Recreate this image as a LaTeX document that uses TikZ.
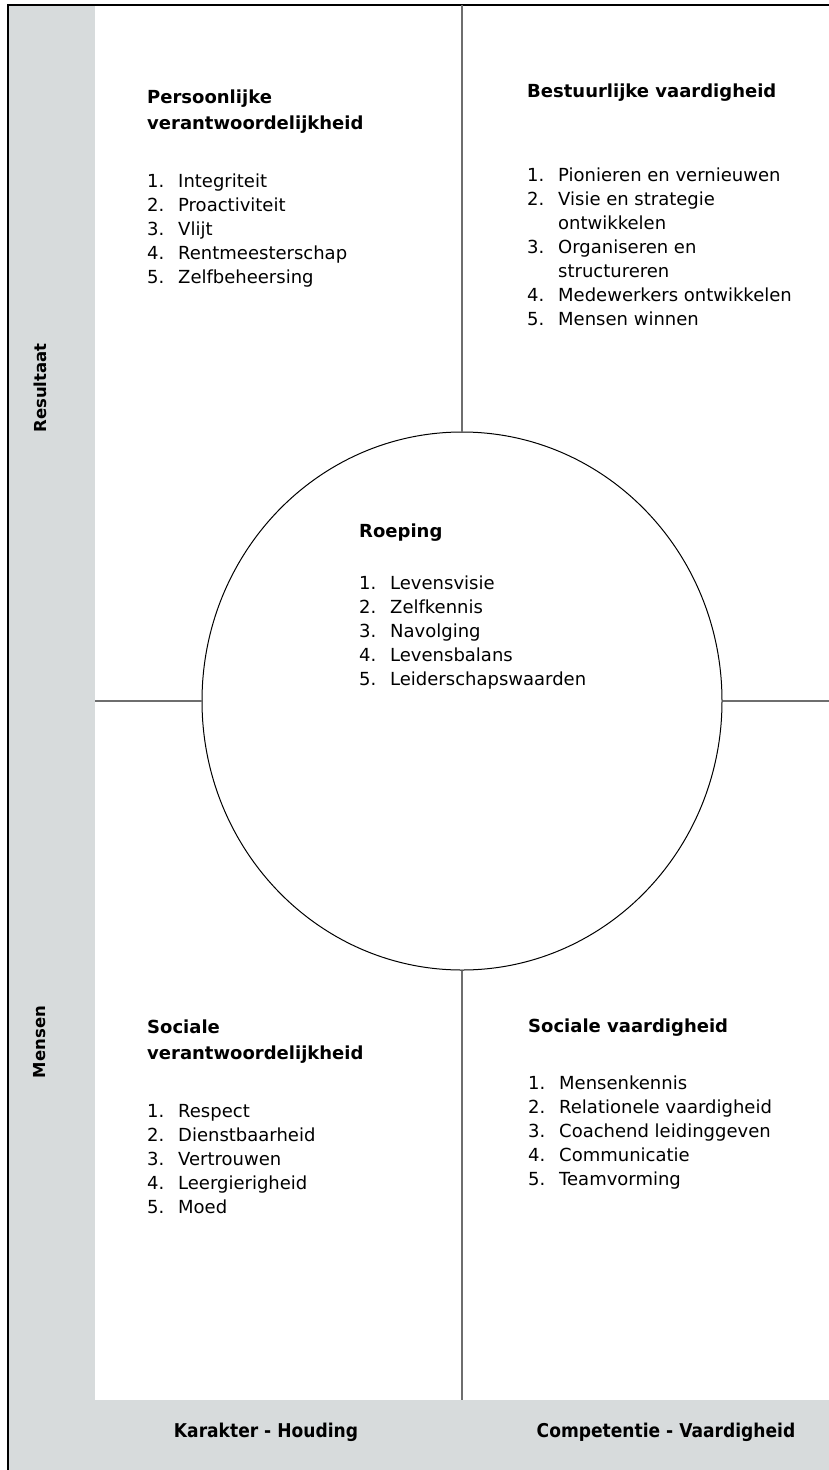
\documentclass[tikz,border=0pt]{standalone}
\usepackage{fontspec}
\setmainfont{DejaVu Sans}
\newfontfamily\condfont[FakeStretch=0.9]{DejaVu Sans}
\usetikzlibrary{shapes.geometric, positioning}
\definecolor{panelgray}{HTML}{D7DBDC}
\definecolor{crossgray}{HTML}{6E6E6E}
\newcommand{\nr}[1]{\makebox[31pt][l]{#1}}

\begin{document}
\begin{tikzpicture}[x=1pt, y=-1pt,
    title/.style={font=\fontsize{18}{26}\selectfont\bfseries, align=left, inner sep=0pt, anchor=base west},
    list/.style={font=\fontsize{18}{24}\selectfont, align=left, inner sep=0pt, anchor=base west},
    side/.style={font=\fontsize{16.5}{20}\selectfont\bfseries, rotate=90, inner sep=0pt},
    axis/.style={font=\fontsize{19}{22}\selectfont\condfont\bfseries, inner sep=0pt},
    cross/.style={draw=crossgray, line width=1.2pt}]
    \useasboundingbox (0,0) rectangle (829,1470);

    % panels
    \fill[panelgray] (8,5) rectangle (829,1470);
    \fill[white] (95,5) rectangle (829,1400);
    \draw[line width=1.2pt] (829,5) -- (8,5) -- (8,1470);

    % cross and circle
    \node (core) [draw, ellipse, line width=1pt, minimum width=520pt, minimum height=538pt, inner sep=0pt] at (462,701) {};
    \coordinate (top) at (462,5);
    \coordinate (bot) at (462,1400);
    \coordinate (lft) at (95,701);
    \coordinate (rgt) at (829,701);
    \draw[cross] (top) -- (core.north) (core.south) -- (bot);
    \draw[cross] (lft) -- (core.west) (core.east) -- (rgt);

    % top left
    \node[title] (pv) at (147,129) {Persoonlijke\\verantwoordelijkheid};
    \node[below=154pt of pv.base west, list] (pvl) {\nr{1.}Integriteit\\\nr{2.}Proactiviteit\\\nr{3.}Vlijt\\\nr{4.}Rentmeesterschap\\\nr{5.}Zelfbeheersing};

    % top right
    \node[title] (bv) at (527,97) {Bestuurlijke vaardigheid};
    \node[below=228pt of bv.base west, list] (bvl) {\nr{1.}Pionieren en vernieuwen\\\nr{2.}Visie en strategie\\\nr{}ontwikkelen\\\nr{3.}Organiseren en\\\nr{}structureren\\\nr{4.}Medewerkers ontwikkelen\\\nr{5.}Mensen winnen};

    % centre
    \node[title] (rp) at (359,537) {Roeping};
    \node[below=148pt of rp.base west, list] (rpl) {\nr{1.}Levensvisie\\\nr{2.}Zelfkennis\\\nr{3.}Navolging\\\nr{4.}Levensbalans\\\nr{5.}Leiderschapswaarden};

    % bottom left
    \node[title] (sv) at (147,1059) {Sociale\\verantwoordelijkheid};
    \node[below=154pt of sv.base west, list] (svl) {\nr{1.}Respect\\\nr{2.}Dienstbaarheid\\\nr{3.}Vertrouwen\\\nr{4.}Leergierigheid\\\nr{5.}Moed};

    % bottom right
    \node[title] (sw) at (528,1032) {Sociale vaardigheid};
    \node[below=153pt of sw.base west, list] (swl) {\nr{1.}Mensenkennis\\\nr{2.}Relationele vaardigheid\\\nr{3.}Coachend leidinggeven\\\nr{4.}Communicatie\\\nr{5.}Teamvorming};

    % axes
    \node[side] (res) at (40,388) {Resultaat};
    \node[side] (men) at (40,1042) {Mensen};
    \node[axis] (kh) at (266,1432) {Karakter - Houding};
    \node[axis] (cv) at (666,1432) {Competentie - Vaardigheid};
\end{tikzpicture}
\end{document}
